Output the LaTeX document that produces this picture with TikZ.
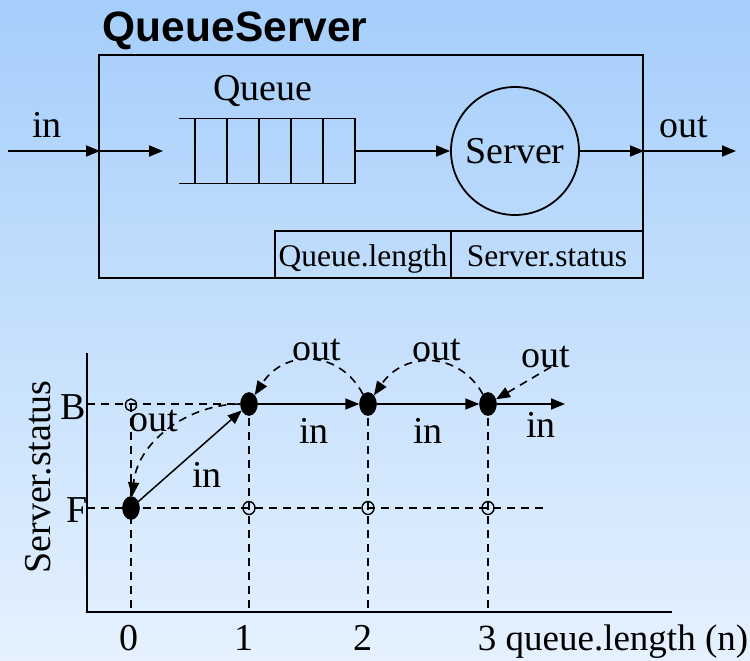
\documentclass[tikz,border=0pt]{standalone}
\usepackage{fontspec}
\setmainfont{Liberation Serif}
\newfontfamily\titlefont{Liberation Sans}
\usetikzlibrary{arrows.meta,shapes.geometric}
\definecolor{bgtop}{RGB}{165,206,251}
\definecolor{bgbot}{RGB}{229,241,254}
\begin{document}
\begin{tikzpicture}[x=1pt,y=-1pt,line width=1.8pt,
  tipped/.style={-{Triangle[length=14pt,width=11pt]}},
  dsh/.style={dash pattern=on 8pt off 6pt,line width=1.6pt},
  lbl/.style={font=\fontsize{38}{40}\selectfont,inner sep=0pt},
  small/.style={font=\fontsize{31.5}{33}\selectfont,inner sep=0pt},
  full/.style={ellipse,fill=black,draw=black,line width=0.5pt,minimum width=17pt,minimum height=23pt,inner sep=0pt},
  hollow/.style={ellipse,draw=black,line width=1.4pt,minimum width=12pt,minimum height=13pt,inner sep=0pt}]
\shade[top color=bgtop,bottom color=bgbot] (0,0) rectangle (750,661);
\useasboundingbox (0,0) rectangle (750,661);

% ---------- upper diagram ----------
\node[anchor=base west,inner sep=0pt,font=\titlefont\bfseries\fontsize{42.5}{43}\selectfont] (title) at (102,42) {QueueServer};
\node[draw,anchor=north west,minimum width=544pt,minimum height=223pt,inner sep=0pt,outer sep=0pt] (box) at (99,55) {};
\node[draw,anchor=north west,minimum width=176pt,minimum height=47pt,inner sep=0pt,outer sep=0pt] (ql) at (275,231) {};
\node[draw,anchor=north west,minimum width=192pt,minimum height=47pt,inner sep=0pt,outer sep=0pt] (ss) at (451,231) {};
\node[small,anchor=base] (qltext) at (363,266) {Queue.length};
\node[small,anchor=base] (sstext) at (547,266) {Server.status};

\node[anchor=north west,minimum width=176pt,minimum height=65pt,inner sep=0pt,outer sep=0pt] (queue) at (179,118.5) {};
\draw (queue.north west) -- (queue.north east) -- (queue.south east) -- (queue.south west);
\foreach \x in {195,227,259,291,323} \draw (\x,118.5) -- (\x,183.5);
\node[lbl,anchor=base] (qtext) at (263,100) {Queue};

\node[circle,draw,minimum size=128pt,inner sep=0pt,lbl] (server) at (515,151) {Server};

\coordinate (inL) at (8,151);
\coordinate (inB) at (100,151);
\coordinate (inQ) at (163,151);
\coordinate (outB) at (644,151);
\coordinate (outR) at (736,151);
\draw[tipped] (inL) -- (inB);
\draw[tipped] (inB) -- (inQ);
\draw[tipped] (queue.east) -- (server.west);
\draw[tipped] (server.east) -- (outB);
\draw[tipped] (outB) -- (outR);
\node[lbl,anchor=base] (intext) at (47,137) {in};
\node[lbl,anchor=base] (outtext) at (684,137) {out};

% ---------- lower diagram ----------
\coordinate (O) at (87,612);
\coordinate (ytop) at (87,353);
\coordinate (xend) at (672,612);
\draw (ytop) -- (O) -- (xend);

\coordinate (yB) at (87,404);
\coordinate (yF) at (87,508);
\coordinate (fend) at (548,508);
\coordinate (a0) at (131,612);
\coordinate (a1) at (249,612);
\coordinate (a2) at (368,612);
\coordinate (a3) at (488,612);

\node[hollow,minimum width=11pt,minimum height=12pt] (o0) at (131,405) {};
\node[hollow] (o1) at (249,508) {};
\node[hollow] (o2) at (368,508) {};
\node[hollow] (o3) at (488,508) {};

\draw[dsh] (yB) -- (249,404);
\draw[dsh] (yF) -- (fend);
\draw[dsh] (131,404) -- (a0);
\draw[dsh] (249,404) -- (a1);
\draw[dsh] (368,404) -- (a2);
\draw[dsh] (488,404) -- (a3);

\node[full] (n0) at (131,508) {};
\node[full] (n1) at (249,404) {};
\node[full] (n2) at (368,404) {};
\node[full] (n3) at (488,404) {};
\coordinate (inend) at (565,404);
\coordinate (outstart) at (551,367);

\draw[tipped,line width=1.5pt] (n0) -- (n1);
\draw[tipped] (n1) -- (n2);
\draw[tipped] (n2) -- (n3);
\draw[tipped] (n3) -- (inend);

\draw[dsh,tipped] (n1) .. controls (190,404) and (138,440) .. (n0);
\draw[dsh,tipped] (n2) .. controls (340,350) and (285,348) .. (n1);
\draw[dsh,tipped] (n3) .. controls (460,352) and (405,350) .. (n2);
\draw[dsh,tipped] (outstart) -- (n3);

\node[lbl,anchor=base] (lout0) at (154,431) {out};
\node[lbl,anchor=base] (lin0) at (207,487) {in};
\node[lbl,anchor=base] (lin1) at (314,443) {in};
\node[lbl,anchor=base] (lin2) at (428,443) {in};
\node[lbl,anchor=base] (lin3) at (541,437) {in};
\node[lbl,anchor=base] (lout1) at (317,360) {out};
\node[lbl,anchor=base] (lout2) at (437,360) {out};
\node[lbl,anchor=base] (lout3) at (546,367) {out};

\node[lbl,anchor=base east] (lB) at (87,419) {B};
\node[lbl,anchor=base east] (lF) at (89,522) {F};
\node[lbl,anchor=base] (t0) at (129,650) {0};
\node[lbl,anchor=base] (t1) at (244,650) {1};
\node[lbl,anchor=base] (t2) at (363,650) {2};
\node[anchor=base west,inner sep=0pt,font=\fontsize{37}{38}\selectfont] (t3) at (477,650) {3 queue.length (n)};
\node[lbl,rotate=90] (ylab) at (38,477) {Server.status};
\end{tikzpicture}
\end{document}
